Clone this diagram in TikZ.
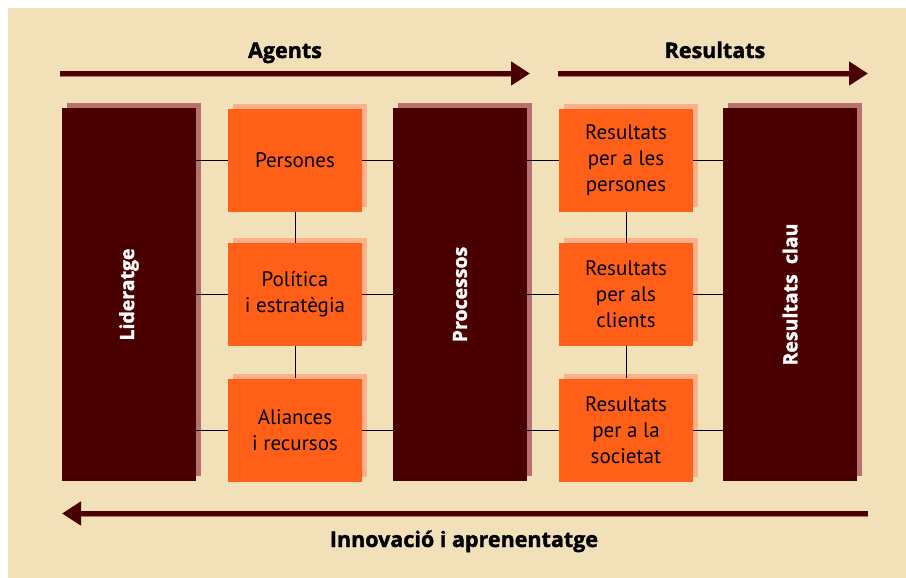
\documentclass[tikz,border=0pt]{standalone}
\usepackage{fontspec}
\setmainfont{PT Sans}
\newfontfamily\headfont{Open Sans}[FakeBold=1.6]
\usetikzlibrary{arrows.meta,shadows}
\definecolor{paper}{HTML}{F2E0B8}
\definecolor{wine}{HTML}{4B0000}
\definecolor{wineshade}{HTML}{B87070}
\definecolor{flame}{HTML}{FF5F17}
\definecolor{flameshade}{HTML}{FFB08A}
\tikzset{
  pillar/.style={fill=wine, draw=none, minimum width=134pt, minimum height=373pt,
    inner sep=0pt, text=white, font=\headfont\bfseries\fontsize{19.5}{22}\selectfont,
    drop shadow={shadow xshift=5pt, shadow yshift=5pt, fill=wineshade, opacity=1}},
  block/.style={fill=flame, draw=none, minimum width=134pt, minimum height=103pt,
    inner sep=0pt, align=center, text=black, font=\fontsize{21}{26}\selectfont,
    drop shadow={shadow xshift=5pt, shadow yshift=5pt, fill=flameshade, opacity=1}},
  link/.style={draw=black, line width=0.9pt},
  flow/.style={draw=wine, line width=5pt, -{Triangle[length=19pt,width=23pt]}},
  flowshade/.style={draw=wineshade, line width=1.2pt},
  heading/.style={font=\headfont\bfseries\fontsize{21.5}{24}\selectfont, text=black, inner sep=0pt}
}
\begin{document}
\begin{tikzpicture}[x=1pt, y=-1pt]
  \useasboundingbox (0,0) rectangle (906,578);
  \fill[white] (0,0) rectangle (906,578);
  \fill[paper] (8,8) rectangle (906,578);

  % flow arrows and their captions
  \coordinate (agA) at (60,73.5);
  \coordinate (agB) at (530,73.5);
  \coordinate (reA) at (558,73.5);
  \coordinate (reB) at (868,73.5);
  \coordinate (inA) at (868,513.5);
  \coordinate (inB) at (62,513.5);
  \draw[flowshade] ([yshift=-2.6pt]agA) -- ([yshift=-2.6pt,xshift=-19pt]agB);
  \draw[flowshade] ([yshift=-2.6pt]reA) -- ([yshift=-2.6pt,xshift=-19pt]reB);
  \draw[flowshade] ([yshift=-2.6pt]inA) -- ([yshift=-2.6pt,xshift=19pt]inB);
  \draw[flow] (agA) -- (agB);
  \draw[flow] (reA) -- (reB);
  \draw[flow] (inA) -- (inB);
  \node[heading, anchor=base] (agents) at (285,58) {Agents};
  \node[heading, anchor=base] (results) at (715,58) {Resultats};
  \node[heading, anchor=base] (innov) at (464,547) {Innovació i aprenentatge};

  % five columns
  \node[pillar] (lid) at (129,294.5) {\rotatebox{90}{Lideratge}};
  \node[block] (per) at (295,160.5) {Persones};
  \node[block] (pol) at (295,294.5) {Política\\i estratègia};
  \node[block] (ali) at (295,430) {Aliances\\i recursos};
  \node[pillar] (pro) at (460,294.5) {\rotatebox{90}{Processos}};
  \node[block] (rpe) at (626,160.5) {Resultats\\per a les\\persones};
  \node[block] (rcl) at (626,294.5) {Resultats\\per als\\clients};
  \node[block] (rso) at (626,430) {Resultats\\per a la\\societat};
  \node[pillar] (cla) at (790,294.5) {\rotatebox{90}{Resultats\ \ clau}};

  % links between columns
  \foreach \b in {per,pol,ali}{
    \draw[link] (\b.west) -- (\b.west -| lid.east);
    \draw[link] (\b.east) -- (\b.east -| pro.west);
  }
  \foreach \b in {rpe,rcl,rso}{
    \draw[link] (\b.west) -- (\b.west -| pro.east);
    \draw[link] (\b.east) -- (\b.east -| cla.west);
  }
  \draw[link] (per.south) -- (pol.north);
  \draw[link] (pol.south) -- (ali.north);
  \draw[link] (rpe.south) -- (rcl.north);
  \draw[link] (rcl.south) -- (rso.north);
\end{tikzpicture}
\end{document}
